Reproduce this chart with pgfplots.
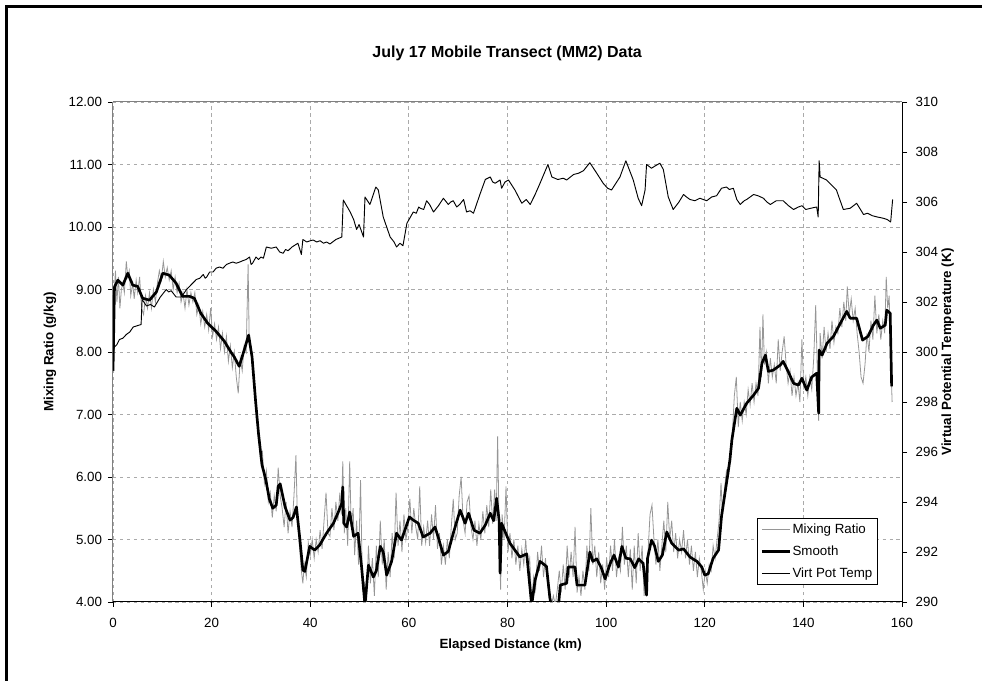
\documentclass[border=0pt]{standalone}
\usepackage{fontspec}
\setmainfont{Liberation Sans}
\usepackage{pgfplots}
\usepackage{pgfplotstable}
\pgfplotsset{compat=1.18}

\definecolor{rawgray}{RGB}{150,150,150}
\definecolor{gridgray}{RGB}{170,170,170}
\definecolor{framegray}{RGB}{128,128,128}

% Mixing ratio, raw samples (km, g/kg)
\pgfplotstableread{
km mr
0.0 8.3
0.2 8.9
0.5 9.3
0.8 8.8
1.1 9.2
1.4 8.7
1.7 9.0
2.0 9.1
2.3 8.95
2.7 9.45
3.0 9.2
3.3 9.3
3.6 8.9
4.0 9.1
4.3 8.85
4.7 9.15
5.0 8.95
5.4 9.2
5.8 8.7
6.2 8.6
6.6 8.9
7.0 8.7
7.4 8.95
7.8 8.7
8.2 9.0
8.6 8.8
9.0 9.1
9.4 9.3
9.8 9.15
10.2 9.45
10.6 9.2
11.0 9.35
11.4 9.15
11.8 9.3
12.2 9.0
12.6 9.2
13.0 8.95
13.4 9.1
13.8 8.8
14.2 8.95
14.6 8.7
15.0 9.0
15.4 8.75
15.8 8.95
16.2 8.8
16.6 8.95
17.0 8.6
17.4 8.75
17.8 8.45
18.2 8.65
18.6 8.4
19.0 8.6
19.4 8.35
19.8 8.7
20.2 8.25
20.6 8.45
21.0 8.2
21.4 8.4
21.8 8.05
22.2 8.3
22.6 8.0
23.0 8.25
23.4 7.85
23.8 8.1
24.2 7.75
24.6 8.0
25.0 7.6
25.4 7.34
25.8 7.9
26.2 7.7
26.6 8.1
27.0 8.0
27.4 9.4
27.6 8.3
27.9 8.1
28.3 7.8
28.7 7.4
29.1 6.9
29.5 6.8
29.9 6.3
30.3 6.4
30.7 5.9
31.1 6.1
31.5 5.6
31.9 5.75
32.3 5.35
32.7 5.7
33.1 5.45
33.5 6.15
33.9 5.7
34.3 5.5
34.7 5.2
35.1 5.6
35.5 5.1
35.9 5.45
36.3 5.2
36.7 5.7
37.1 6.35
37.4 5.3
37.8 4.9
38.2 4.5
38.5 4.3
38.8 4.6
39.2 4.4
39.6 4.95
40.0 4.75
40.4 5.0
40.8 4.7
41.2 5.0
41.6 4.8
42.0 5.15
42.4 4.85
42.8 5.3
43.2 5.75
43.6 5.1
44.0 5.05
44.4 5.5
44.8 5.15
45.2 5.6
45.6 5.3
46.0 5.75
46.3 5.4
46.6 6.25
46.9 5.1
47.2 5.5
47.6 4.9
48.0 6.25
48.3 5.2
48.7 5.5
49.0 4.75
49.4 5.3
49.8 4.6
50.2 5.95
50.6 4.2
51.0 4.3
51.4 3.95
51.8 4.9
52.2 4.3
52.6 4.7
53.0 4.1
53.4 4.9
53.8 4.4
54.2 5.3
54.6 4.6
55.0 5.0
55.4 4.2
55.8 4.8
56.2 4.4
56.6 5.1
57.0 4.7
57.4 5.75
57.8 4.9
58.2 5.3
58.6 4.8
59.0 5.4
59.4 5.0
59.8 5.2
60.2 5.65
60.6 5.1
61.0 5.5
61.4 5.2
61.8 5.0
62.2 5.85
62.6 4.9
63.0 5.2
63.4 4.95
63.8 5.3
64.2 4.9
64.6 5.4
65.0 5.0
65.4 5.55
65.8 4.85
66.2 5.1
66.6 4.6
67.0 4.9
67.4 4.6
67.8 5.0
68.2 4.7
68.6 5.2
69.0 5.65
69.4 5.0
69.8 5.1
70.2 5.7
70.6 6.0
71.0 5.3
71.4 5.1
71.8 5.6
72.2 5.7
72.6 5.2
73.0 5.0
73.4 5.3
73.8 4.9
74.2 5.25
74.6 5.0
75.0 5.45
75.4 5.1
75.8 5.55
76.2 5.2
76.6 5.8
77.0 5.25
77.4 5.8
77.7 5.3
78.0 6.65
78.3 5.2
78.6 4.2
78.9 5.4
79.3 5.0
79.7 5.85
80.1 4.8
80.5 5.1
80.9 4.7
81.3 5.0
81.7 4.6
82.1 4.9
82.5 4.5
82.9 4.85
83.3 4.6
83.7 5.0
84.1 4.5
84.5 4.7
84.9 4.0
85.3 4.4
85.7 4.2
86.1 4.8
86.5 4.5
86.9 4.9
87.3 4.4
87.7 4.7
88.1 4.3
88.5 4.1
88.9 3.95
89.3 4.1
89.7 3.95
90.1 4.2
90.5 4.5
90.9 4.15
91.3 4.6
91.7 4.2
92.1 4.9
92.5 4.4
92.9 4.8
93.3 4.4
93.7 5.2
94.1 4.15
94.5 4.4
94.9 4.1
95.3 4.5
95.7 4.2
96.1 4.9
96.5 4.5
96.9 5.5
97.3 4.6
97.7 4.9
98.1 4.4
98.5 4.8
98.9 4.3
99.3 4.6
99.7 4.2
100.1 4.7
100.5 4.4
100.9 4.9
101.3 4.5
101.7 5.0
102.1 4.4
102.5 4.7
102.9 4.5
103.3 5.2
103.7 4.6
104.1 4.9
104.5 4.4
104.9 4.85
105.3 4.2
105.7 4.9
106.1 4.3
106.5 5.1
106.9 4.5
107.3 4.9
107.7 4.1
108.1 4.4
108.5 4.8
108.9 5.4
109.3 5.55
109.7 5.0
110.1 4.6
110.5 5.0
110.9 4.5
111.3 4.9
111.7 5.3
112.1 4.8
112.5 5.6
112.9 5.0
113.3 5.3
113.7 4.8
114.1 5.1
114.5 4.7
114.9 5.0
115.3 4.8
115.7 5.15
116.1 4.7
116.5 5.0
116.9 4.6
117.3 4.9
117.7 4.5
118.1 4.8
118.5 4.4
118.9 4.7
119.3 4.5
119.7 4.2
120.1 4.5
120.5 4.3
120.9 4.6
121.3 4.5
121.7 4.9
122.1 4.7
122.5 5.0
122.9 5.3
123.3 5.9
123.6 5.4
124.0 5.8
124.4 6.1
124.8 6.0
125.2 6.4
125.6 6.7
126.0 7.3
126.4 7.6
126.8 6.8
127.2 7.2
127.6 6.9
128.0 7.2
128.4 7.0
128.8 7.4
129.2 7.15
129.6 7.5
130.0 7.2
130.4 7.5
130.8 7.3
131.2 8.4
131.5 7.6
131.8 8.6
132.1 7.8
132.5 8.0
132.9 7.5
133.3 7.9
133.7 7.6
134.1 7.8
134.5 7.5
134.9 8.2
135.3 7.7
135.7 8.0
136.1 8.25
136.5 7.8
136.9 7.5
137.3 7.7
137.7 7.3
138.1 7.6
138.5 7.3
138.9 7.5
139.3 7.2
139.7 8.2
140.1 7.4
140.5 7.6
140.9 7.3
141.3 7.6
141.7 7.4
142.1 7.9
142.5 8.75
142.8 7.8
143.1 6.9
143.4 8.3
143.8 7.9
144.2 8.4
144.6 8.0
145.0 8.3
145.4 8.05
145.8 8.5
146.2 8.15
146.6 8.4
147.0 8.3
147.4 8.7
147.8 8.4
148.2 8.8
148.6 8.5
148.9 9.05
149.3 8.6
149.7 8.85
150.1 8.5
150.5 8.7
150.9 8.3
151.3 8.0
151.7 7.6
152.1 7.5
152.5 7.8
152.9 8.3
153.3 8.0
153.7 8.5
154.1 8.2
154.5 8.9
154.9 8.3
155.3 8.6
155.7 8.2
156.1 8.5
156.5 8.3
156.8 9.2
157.1 8.7
157.4 8.9
157.7 7.9
158.0 7.2
}\rawtable

% Running mean of the mixing ratio
\pgfplotstableread{
km mr
0.0 7.70
0.3 9.04
1.0 9.15
2.0 9.07
3.0 9.26
4.0 9.07
5.0 9.05
6.0 8.86
7.4 8.83
8.8 8.96
10.1 9.26
11.4 9.23
12.8 9.10
14.1 8.89
15.5 8.89
16.5 8.86
17.8 8.62
19.2 8.46
20.9 8.33
22.6 8.17
23.9 8.00
24.6 7.92
25.6 7.77
26.6 8.03
27.5 8.27
28.2 7.92
28.9 7.23
29.5 6.70
30.2 6.20
31.0 5.95
31.7 5.65
32.4 5.50
33.1 5.55
33.5 5.85
33.9 5.89
34.9 5.52
35.9 5.31
36.5 5.35
37.2 5.52
37.9 5.00
38.5 4.51
38.9 4.49
39.9 4.89
40.9 4.83
41.9 4.91
43.3 5.10
44.7 5.26
45.7 5.44
46.4 5.58
46.6 5.84
46.8 5.26
47.4 5.20
48.0 5.44
48.8 5.05
49.7 5.10
50.4 4.57
51.1 3.95
51.8 4.59
52.8 4.40
53.4 4.50
54.2 4.89
54.8 4.80
55.5 4.43
56.5 4.65
57.5 5.10
58.5 4.99
60.1 5.36
60.9 5.31
61.9 5.26
62.9 5.04
64.3 5.10
65.3 5.20
65.9 5.05
67.0 4.75
68.0 4.81
69.0 5.10
70.4 5.47
71.4 5.26
72.1 5.42
73.2 5.15
74.4 5.10
75.5 5.23
76.5 5.42
77.2 5.30
77.8 5.66
78.3 5.30
78.5 4.46
78.8 5.26
80.5 4.94
82.5 4.72
83.9 4.77
84.9 3.95
85.6 4.35
86.6 4.65
87.9 4.57
88.6 4.06
89.0 3.90
90.3 3.90
90.7 4.27
92.0 4.30
92.3 4.56
93.7 4.56
94.1 4.27
95.7 4.27
96.7 4.80
97.3 4.65
98.1 4.69
99.0 4.55
99.8 4.37
100.8 4.61
101.6 4.75
102.5 4.56
103.2 4.89
104.0 4.70
104.9 4.69
105.8 4.55
106.6 4.69
107.5 4.62
108.2 4.11
108.4 4.70
109.2 4.99
109.8 4.90
110.6 4.65
111.4 4.75
112.3 5.12
113.3 4.94
114.7 4.83
115.7 4.85
117.0 4.72
118.4 4.65
119.4 4.56
120.0 4.43
120.7 4.45
121.7 4.70
122.8 4.83
123.4 5.37
124.4 5.90
125.1 6.27
125.5 6.59
126.1 6.90
126.5 7.10
127.2 6.99
128.5 7.18
129.9 7.31
130.9 7.42
131.6 7.82
132.3 7.95
132.9 7.69
133.9 7.71
135.3 7.79
135.9 7.85
136.9 7.69
138.0 7.50
139.0 7.47
139.7 7.58
140.7 7.39
141.7 7.60
142.7 7.66
143.1 7.02
143.2 8.03
143.8 7.95
144.8 8.14
146.1 8.25
147.5 8.46
148.8 8.65
149.5 8.54
150.8 8.54
152.0 8.19
153.1 8.25
154.2 8.43
154.9 8.51
155.6 8.38
156.6 8.43
156.9 8.67
157.6 8.62
157.9 7.45
}\smoothtable

% Virtual potential temperature (km, K)
\pgfplotstableread{
km thv
0.0 299.9
0.3 300.2
0.8 300.3
1.3 300.5
2.0 300.55
2.7 300.7
3.4 300.8
4.1 301.0
4.9 301.05
5.7 301.1
5.9 302.1
6.8 301.84
7.6 301.9
8.4 301.8
9.6 302.2
10.8 302.5
11.3 302.4
11.8 302.45
12.8 302.2
13.9 302.2
14.9 302.5
15.9 302.7
16.9 302.9
17.6 302.95
18.3 303.1
18.7 302.95
19.0 303.0
19.6 303.2
20.3 303.2
20.9 303.35
21.6 303.4
22.3 303.35
23.0 303.5
23.6 303.55
24.3 303.6
25.0 303.55
25.7 303.6
26.3 303.65
27.0 303.7
27.7 303.8
28.0 303.5
28.3 303.55
29.0 303.8
29.5 303.7
30.0 303.8
30.5 303.75
31.1 304.2
32.1 304.15
33.1 304.2
33.8 304.0
34.5 303.95
35.0 304.1
35.5 304.05
36.3 304.2
37.5 304.35
38.2 303.9
38.5 304.5
39.3 304.4
40.0 304.45
40.6 304.48
41.3 304.4
42.0 304.45
42.7 304.35
43.3 304.4
44.0 304.32
45.2 304.5
46.4 304.6
46.7 306.08
48.1 305.6
48.8 305.3
49.4 304.9
49.9 305.1
50.8 304.6
51.1 306.2
52.1 305.9
53.3 306.6
53.8 306.48
54.8 305.4
55.5 305.0
56.2 304.6
57.0 304.4
57.5 304.2
58.2 304.35
58.8 304.25
59.6 305.15
60.9 305.6
61.5 305.55
62.0 305.8
62.3 305.75
63.0 305.7
63.6 306.05
64.2 305.9
65.0 305.6
66.0 305.85
67.0 306.15
68.0 305.9
68.5 306.0
69.0 306.05
69.7 305.8
70.3 305.9
71.1 306.1
71.7 305.6
72.4 305.65
73.1 305.55
74.4 306.3
75.5 306.9
76.5 307.0
77.0 306.8
77.5 306.75
78.5 306.88
78.8 306.55
79.5 306.8
80.2 306.88
81.5 306.48
82.9 305.95
83.8 306.1
84.6 305.9
85.6 306.3
86.6 306.75
88.2 307.5
89.0 307.0
90.2 306.9
91.3 306.95
92.0 306.88
93.4 307.1
94.4 307.15
95.4 307.25
96.7 307.57
98.1 307.15
99.4 306.75
100.3 306.55
101.1 306.48
102.8 307.0
104.0 307.65
105.5 306.88
106.5 306.15
107.2 305.85
107.9 306.48
108.2 307.5
109.2 307.35
110.0 307.45
110.9 307.55
111.6 307.3
112.6 306.2
113.6 305.7
114.7 305.98
115.7 306.3
116.3 306.2
117.0 306.1
118.0 306.05
119.0 306.15
120.4 306.05
121.4 306.2
122.4 306.25
123.4 306.55
124.4 306.6
125.0 306.5
125.8 306.55
126.5 306.1
127.2 305.9
128.0 306.05
128.5 306.1
129.9 306.3
130.8 306.25
131.9 306.15
132.6 306.0
133.3 305.9
134.5 306.05
135.9 306.05
137.0 305.85
138.0 305.7
139.0 305.8
139.7 305.85
140.5 305.7
141.5 305.75
142.7 305.8
143.0 305.4
143.2 307.65
143.4 307.0
144.7 306.88
146.7 306.48
148.1 305.7
149.5 305.75
150.8 305.95
152.2 305.5
153.0 305.55
154.0 305.45
155.0 305.4
156.2 305.35
157.0 305.3
157.7 305.2
158.1 306.1
}\thvtable

\pgfplotsset{
  common/.style={
    at={(0,0)}, anchor=south west,
    scale only axis, width=591.75pt, height=375pt,
    xmin=0, xmax=160,
    tick align=outside, major tick length=3.75pt,
    tick style={black, line width=0.6pt},
    ticklabel style={font=\fontsize{10}{12}\selectfont},
    /pgf/number format/assume math mode=true,
    label style={font=\fontsize{10}{12}\selectfont\bfseries},
  },
}

\begin{document}
\begin{tikzpicture}
\useasboundingbox (-84.75pt,-59.25pt) rectangle (651.75pt,451.5pt);

% left axis: mixing ratio
\begin{axis}[
  common,
  ymin=4, ymax=12,
  xtick={0,20,...,160}, ytick={4,5,...,12},
  axis x line*=bottom, axis y line*=left,
  x axis line style={black, line width=0.75pt, -},
  y axis line style={framegray, line width=0.75pt, -},
  xticklabel style={yshift=-4.5pt},
  yticklabel style={xshift=-1pt, /pgf/number format/.cd, fixed, fixed zerofill, precision=2},
  xmajorgrids, ymajorgrids,
  grid style={gridgray, line width=0.6pt, dash pattern=on 2.6pt off 2.6pt},
  xlabel={Elapsed Distance (km)},
  xlabel style={at={(axis description cs:0.504,-0.086)}, anchor=center},
  ylabel={Mixing Ratio (g/kg)},
  ylabel style={at={(axis description cs:-0.080,0.5)}, anchor=center},
  every axis title shift=0pt,
  title={July 17 Mobile Transect (MM2) Data},
  title style={at={(axis description cs:0.4995,1.098)}, anchor=center,
    font=\fontsize{12}{14}\selectfont\bfseries},
]
\draw[framegray, line width=0.75pt] (rel axis cs:0,1) -- (rel axis cs:1,1);
\addplot[rawgray, line width=0.6pt] table[x=km, y=mr] {\rawtable};
\addplot[black, line width=2pt, line join=round] table[x=km, y=mr] {\smoothtable};
\end{axis}

% right axis: virtual potential temperature
\begin{axis}[
  common,
  ymin=290, ymax=310,
  ytick={290,292,...,310},
  axis y line*=right, axis x line=none,
  y axis line style={black, line width=0.75pt, -},
  yticklabel style={xshift=3pt},
  ylabel={Virtual Potential Temperature (K)},
  ylabel style={at={(axis description cs:1.058,0.5)}, anchor=center},
  legend cell align=left,
  legend image code/.code={\draw[#1] (0pt,0pt) -- (21pt,0pt);},
  legend style={
    at={(axis description cs:0.816,0.168)}, anchor=north west,
    draw=black, line width=0.6pt, fill=white,
    inner xsep=2.5pt, inner ysep=2.5pt, row sep=5pt,
    font=\fontsize{10}{12}\selectfont,
    nodes={inner sep=1pt, text height=7.5pt, text depth=2pt},
  },
]
\addlegendimage{rawgray, line width=0.75pt}
\addlegendentry{Mixing Ratio}
\addlegendimage{black, line width=2pt}
\addlegendentry{Smooth}
\addplot[black, line width=0.7pt, line join=round] table[x=km, y=thv] {\thvtable};
\addlegendentry{Virt Pot Temp}
\end{axis}

% chart frame
\draw[black, line width=2.25pt] (-79.875pt,-70pt) -- (-79.875pt,446.625pt) -- (670pt,446.625pt);
\end{tikzpicture}
\end{document}
